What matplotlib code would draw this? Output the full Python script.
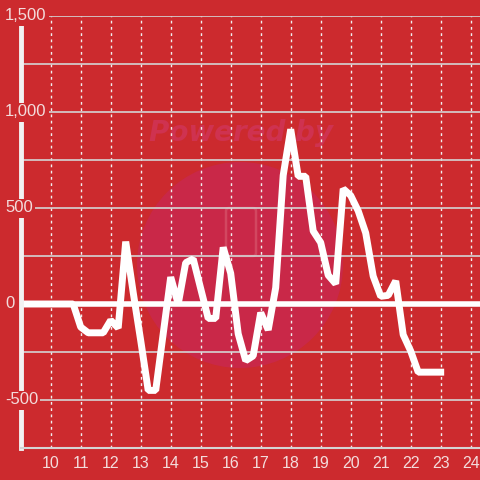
import matplotlib.pyplot as plt
from matplotlib.patches import Circle, FancyBboxPatch
from matplotlib.transforms import blended_transform_factory

# quarter-hour samples from 9:00 to 23:00
hours = [9.0, 9.25, 9.5, 9.75, 10.0, 10.25, 10.5, 10.75,
         11.0, 11.25, 11.5, 11.75, 12.0, 12.25, 12.5, 12.75,
         13.0, 13.25, 13.5, 13.75, 14.0, 14.25, 14.5, 14.75,
         15.0, 15.25, 15.5, 15.75, 16.0, 16.25, 16.5, 16.75,
         17.0, 17.25, 17.5, 17.75, 18.0, 18.25, 18.5, 18.75,
         19.0, 19.25, 19.5, 19.75, 20.0, 20.25, 20.5, 20.75,
         21.0, 21.25, 21.5, 21.75, 22.0, 22.25, 22.5, 22.75, 23.0]
values = [0, 0, 0, 0, 0, 0, 0, 0,
          -120, -150, -150, -150, -85, -125, 325, 60,
          -190, -450, -450, -155, 140, 0, 215, 235,
          80, -75, -75, 295, 160, -155, -295, -270,
          -45, -135, 85, 670, 910, 665, 665, 380,
          320, 150, 105, 600, 565, 485, 370, 145,
          40, 45, 120, -160, -245, -355, -355, -355, -355]

x_ticks = list(range(10, 25))
y_grid = [-500, -250, 0, 250, 500, 750, 1000, 1250, 1500]
y_labels = {-500: '-500', 0: '0', 500: '500', 1000: '1,000', 1500: '1,500'}

bg = '#cc2a2e'
txt = '#f3dcdc'
plt.rcParams['font.family'] = ['Liberation Sans', 'DejaVu Sans']

fig = plt.figure(figsize=(4.8, 4.8), dpi=100, facecolor=bg)
ax = fig.add_axes([20.7 / 480, 32 / 480, 459.3 / 480, 432 / 480])
ax.set_facecolor(bg)
ax.set_xlim(9, 9 + 459.3 / 30)
ax.set_ylim(-750, 1500)

# watermark, under the grid
ax.add_patch(Circle((240 / 480, 1 - 265 / 480), 103 / 480, transform=fig.transFigure,
                    facecolor='#c92848', edgecolor='none', zorder=0.1, clip_on=False))
ax.add_patch(FancyBboxPatch((226 / 480, 1 - 256 / 480), 30 / 480, 48 / 480,
                            boxstyle='round,pad=0,rounding_size=0.006',
                            transform=fig.transFigure, facecolor='none',
                            edgecolor='#d24760', lw=1.8, zorder=0.15))
ax.text(241 / 480, 1 - 133 / 480, 'Powered by', transform=fig.transFigure,
        ha='center', va='center', fontsize=20, fontweight='bold', style='italic',
        color='#cf3250', family='DejaVu Sans', zorder=0.2)

ax.set_yticks(y_grid)
ax.set_yticklabels([])
ax.set_xticks(x_ticks)
ax.set_xticklabels([str(t) for t in x_ticks], color=txt, fontsize=11.5)
ax.tick_params(length=0, pad=6)
ax.set_axisbelow(True)
ax.grid(axis='y', color='#d4d4d4', lw=1.2)
ax.grid(axis='x', color='#f0f0f0', lw=1, linestyle=(0, (2, 2.5)))

for s in ['top', 'right']:
    ax.spines[s].set_visible(False)
ax.spines['left'].set_color('#f2f2f2')
ax.spines['left'].set_linewidth(3.5)
ax.spines['bottom'].set_color('#d4d4d4')
ax.spines['bottom'].set_linewidth(1.5)

ax.axhline(0, color='white', lw=4, zorder=1.5)
ax.plot(hours, values, color='white', lw=5, solid_joinstyle='bevel', zorder=2)

trans = blended_transform_factory(ax.transAxes, ax.transData)
for v, lab in y_labels.items():
    ax.text(-15.5 / 459.3, v, lab, transform=trans, ha='left', va='center',
            fontsize=12, color=txt, clip_on=False, zorder=4,
            bbox=dict(facecolor=bg, edgecolor='none', pad=1.5))

fig.savefig('out.png', dpi=100, facecolor=bg)
